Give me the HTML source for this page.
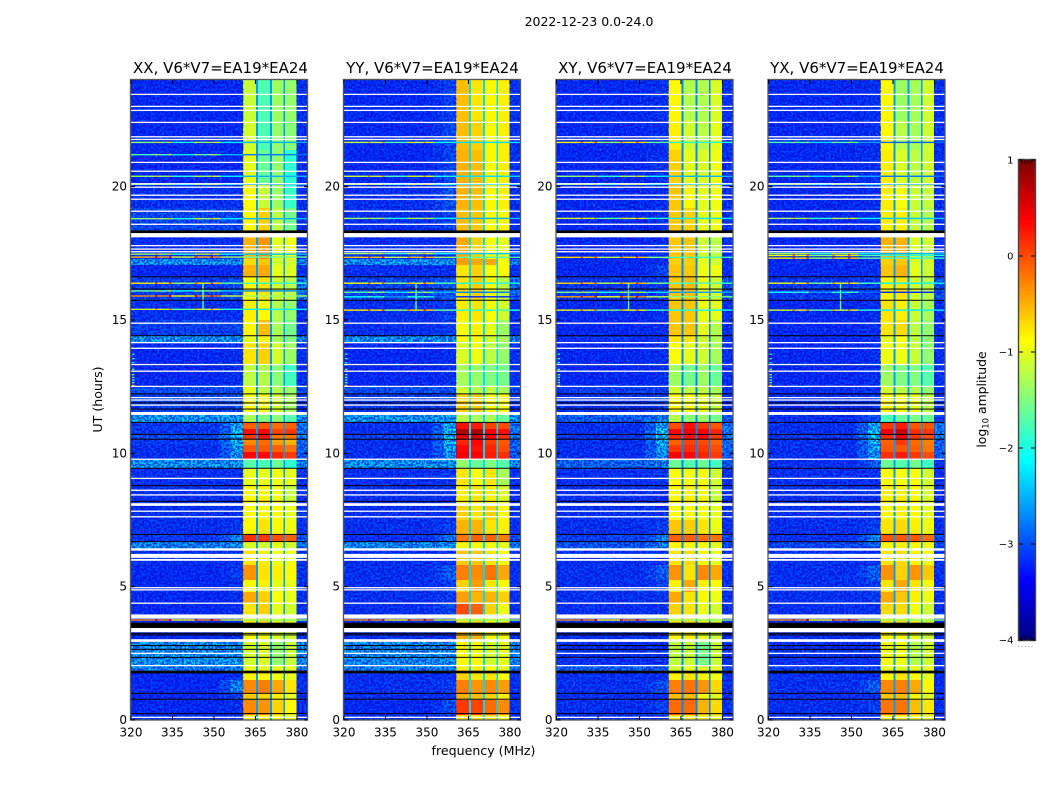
<!DOCTYPE html>
<html lang="en">
<head>
<meta charset="utf-8">
<title>2022-12-23 dynamic spectra</title>
<style>
html,body{margin:0;padding:0;background:#fff;width:1050px;height:800px;overflow:hidden}
svg{display:block}
text{font-family:"DejaVu Sans","Liberation Sans",sans-serif;fill:#000}
</style>
</head>
<body>
<svg id="chart" width="1050" height="800" viewBox="0 0 1050 800" xmlns="http://www.w3.org/2000/svg">
  <defs>
    <filter id="speckLight" x="0" y="0" width="100%" height="100%" color-interpolation-filters="sRGB">
      <feTurbulence type="fractalNoise" baseFrequency="0.45" numOctaves="2" seed="3"/>
      <feColorMatrix type="matrix" values="0 0 0 0 0  0 0 0 0 0.5  0 0 0 0 1  8 0 0 0 -4.9"/>
    </filter>
    <filter id="speckDark" x="0" y="0" width="100%" height="100%" color-interpolation-filters="sRGB">
      <feTurbulence type="fractalNoise" baseFrequency="0.45" numOctaves="2" seed="11"/>
      <feColorMatrix type="matrix" values="0 0 0 0 0  0 0 0 0 0  0 0 0 0 0.8  -8 0 0 0 4.6"/>
    </filter>
  </defs>
  <text x="589" y="26" font-size="12.5" text-anchor="middle">2022-12-23 0.0-24.0</text>
  <text x="220.5" y="73" font-size="15" text-anchor="middle">XX, V6*V7=EA19*EA24</text>
  <text x="432.5" y="73" font-size="15" text-anchor="middle">YY, V6*V7=EA19*EA24</text>
  <text x="645" y="73" font-size="15" text-anchor="middle">XY, V6*V7=EA19*EA24</text>
  <text x="857" y="73" font-size="15" text-anchor="middle">YX, V6*V7=EA19*EA24</text>
  <text transform="translate(102,399.5) rotate(-90)" font-size="12.6" text-anchor="middle">UT (hours)</text>
  <text x="483.5" y="755" font-size="12.6" text-anchor="middle">frequency (MHz)</text>
  <text transform="translate(986,399.5) rotate(-90)" font-size="12.4" text-anchor="middle">log<tspan font-size="8.5" dy="2.5">10</tspan><tspan dy="-2.5"> amplitude</tspan></text>
  <g id="plots"></g>
  <g id="colorbar"></g>
</svg>
<script>
// ---------- chart data (UT hours, MHz, log10 amplitude) ----------
const panelNames = ['xx', 'yy', 'xy', 'yx'];
const frequencyTicks = [320, 335, 350, 365, 380];
const utTicks = [0, 5, 10, 15, 20];
const colorbarTicks = [1, 0, -1, -2, -3, -4];
const colorbarTickLabels = ['1', '0', '\u22121', '\u22122', '\u22123', '\u22124'];
const frequencyEdges = [320, 352, 356, 360.5, 365.2, 365.9, 370.25, 371, 375.06, 375.7, 379.9, 384];
const utEdges = [24, 22.5, 21.38, 20.06, 19.2, 18.34, 18.11, 17.29, 17.06, 16.61, 15.75, 15, 14.4, 14.18, 13.31, 12.49, 12.23, 11.44, 11.18, 10.91, 10.73, 10.54, 10.31, 10.05, 9.79, 9.45, 8.81, 8.14, 7.5, 6.98, 6.68, 6.38, 5.81, 5.25, 4.8, 4.39, 3.83, 3.3, 2.93, 2.06, 1.76, 1.5, 1.01, 0.75, 0.19, 0];
// each row: background, shoulder, band 1, band 2, band 3, band 4, upper edge
const xxRows = [
[-3.1,-3.1,-1.15,-1.75,-1.35,-1.4,-3.05],[-3.1,-3.1,-1.1,-1.75,-1.4,-1.45,-3.05],[-3.1,-3.1,-1,-1.6,-1.4,-1.9,-3.05],[-3.05,-3.05,-.9,-1.15,-1.35,-1.85,-3.05],[-2.9,-2.9,-.85,-.65,-1.2,-1.55,-3.05],[-2.9,-2.9,-.85,-.65,-1.2,-1.55,-3.05],
[-3.05,-3.05,-.5,-.35,-1,-.95,-3.05],[-2.4,-2.4,-.7,-.6,-1.1,-1.1,-2.5],[-3.1,-3.05,-.5,-.45,-1,-1.05,-3.05],[-2.95,-2.85,-.85,-.75,-1.1,-1.2,-2.6],[-3.05,-3.05,-.8,-.85,-1.25,-1.4,-3.05],[-2.95,-2.9,-.85,-.55,-1.3,-1.55,-3.05],
[-2.4,-2.4,-1,-.9,-1.3,-1.5,-2.5],[-3.1,-3.05,-.75,-.65,-1.1,-1.35,-3.05],[-3.1,-3.05,-1.2,-1.25,-1.45,-1.8,-3.05],[-2.85,-2.85,-1,-1.2,-1.25,-1.35,-2.9],[-2.95,-2.85,-.9,-.9,-1.1,-1.3,-3.05],[-2.35,-2.35,-1.3,-1.5,-1.45,-1.7,-2.4],
[-3,-2.3,-.1,-.05,-.15,-.1,-2.6],[-3,-2.2,.3,.35,.05,.1,-2.6],[-2.85,-2.2,.1,.3,-.2,-.2,-2.6],[-3,-2.2,-.3,-.15,-.4,-.5,-2.7],[-3.05,-2.3,-.05,-.05,-.1,-.2,-2.7],[-3.05,-2.4,.35,.35,.2,.1,-2.8],
[-2.4,-2.4,-1.7,-1.75,-1.6,-1.9,-2.5],[-3.05,-3.05,-1,-1,-.95,-1,-3.05],[-3.05,-3.05,-.85,-.85,-.95,-1.15,-3.05],[-3.05,-3.05,-.9,-.85,-.85,-1,-3.05],[-3.05,-3,-.85,-.75,-.85,-.95,-3.05],[-3,-2.5,.15,.1,0,-.1,-2.8],
[-2.5,-2.45,-1.05,-1.1,-1,-1.1,-2.6],[-3.05,-3.05,-.75,-.8,-.95,-.95,-3.05],[-3.1,-2.95,-.35,-.75,-.8,-.85,-3.05],[-3.1,-3.05,-.85,-.8,-1,-1,-3.05],[-3.1,-3.05,-.45,-.65,-.9,-1,-3.05],[-3.1,-3.05,-.75,-.65,-1,-1.1,-3.05],
[-3.1,-3.05,-.8,-.7,-1,-1.1,-3.05],[-3.1,-3.05,-.9,-.9,-1.05,-1.1,-3.05],[-2.4,-2.4,-1.1,-1.05,-1.4,-1.15,-2.45],[-2.55,-2.55,-1,-1,-1,-1,-2.6],[-3.1,-3.05,-.8,-.85,-.95,-1,-3.05],[-3.1,-2.5,-.3,-.25,-.45,-.75,-3.05],
[-3.1,-2.95,-.6,-.7,-.8,-1,-3.05],[-3.1,-3.05,-.3,-.35,-.65,-.85,-3.05],[-3.05,-3.05,-.8,-.8,-.85,-1,-3.05]];
const yyRows = [
[-3.1,-2.95,-.55,-.75,-.85,-.8,-3.05],[-3.1,-2.9,-.55,-.65,-.85,-.8,-3.05],[-3.1,-2.9,-.5,-.55,-.85,-.8,-3.05],[-3.05,-2.8,-.5,-.55,-.85,-.8,-3.05],[-3.05,-2.9,-.55,-.6,-.85,-.85,-3.05],[-3.05,-2.9,-.55,-.6,-.85,-.85,-3.05],
[-3.05,-3.05,-.45,-.65,-.9,-1,-3.05],[-2.4,-2.4,-.4,-.45,-.45,-.9,-2.5],[-3.05,-3.05,-.75,-.65,-.85,-.85,-3.05],[-2.9,-2.75,-.75,-.65,-.85,-1.2,-2.7],[-3.05,-2.95,-.8,-.75,-.9,-1.1,-3.05],[-3.05,-2.95,-.9,-.8,-1,-1.35,-3.05],
[-2.4,-2.4,-.9,-.85,-1.1,-1.3,-2.5],[-3.1,-3.05,-1.05,-.95,-1.2,-1.4,-3.05],[-3.1,-3.05,-1.3,-1.4,-1.5,-1.55,-3.05],[-2.85,-2.85,-1.1,-1.25,-1.2,-1.3,-2.9],[-3,-2.95,-.65,-.65,-.9,-.9,-3.05],[-2.35,-2.35,-1.2,-1.3,-1.3,-1.6,-2.4],
[-3.05,-2.3,.3,.25,.05,0,-2.6],[-3.05,-2.1,.75,.75,.4,.3,-2.6],[-2.95,-2.1,.5,.6,.4,.15,-2.6],[-3.05,-2.2,.2,.35,.1,-.05,-2.7],[-3.05,-2.3,.35,.3,.2,0,-2.7],[-3.05,-2.4,.45,.4,.25,.15,-2.8],
[-2.4,-2.4,-1.4,-1.6,-1.5,-1.7,-2.5],[-3.05,-3,-.75,-.9,-.75,-1.3,-3.05],[-3.05,-3.05,-.8,-.75,-.8,-1.05,-3.05],[-3.05,-3.05,-.65,-.75,-.65,-.85,-3.05],[-3.05,-2.95,-.5,-.5,-.75,-.8,-3.05],[-3.05,-2.6,-.2,-.1,-.1,-.25,-2.9],
[-2.45,-2.45,-.85,-.9,-.95,-1,-2.6],[-3.05,-3.05,-.6,-.6,-.75,-.9,-3.05],[-3.05,-2.75,-.25,-.3,-.2,-.45,-3.05],[-3.05,-2.95,-.65,-.4,-.75,-.85,-3.05],[-3.05,-3,-.4,-.5,-.5,-.65,-3.05],[-3.05,-2.9,0,-.1,-.65,-.95,-3.05],
[-3.05,-3.05,-.8,-.7,-.9,-1,-3.05],[-3.05,-3.05,-.5,-.5,-.85,-.9,-3.05],[-2.45,-2.45,-.85,-.85,-1.1,-1,-2.5],[-2.55,-2.55,-.8,-.8,-.9,-1,-2.6],[-3.05,-3.05,-.65,-.75,-.75,-.9,-3.05],[-3.05,-2.95,-.25,-.35,-.3,-.4,-3.05],
[-3.05,-3.05,-.5,-.55,-.65,-.8,-3.05],[-3.1,-2.85,.1,.05,-.15,-.3,-3.05],[-3.05,-3.05,-.7,-.7,-.7,-.9,-3.05]];
const xyRows = [
[-3.1,-3.05,-.85,-1.25,-1.25,-1.05,-3.05],[-3.1,-3.05,-.8,-1.1,-1.2,-1,-3.05],[-3.1,-3.05,-.65,-1,-1.05,-.95,-3.05],[-3.1,-3.05,-.6,-.85,-1,-.95,-3.05],[-3.1,-3.05,-.6,-.65,-1,-.95,-3.05],[-3.1,-3.05,-.6,-.65,-1,-.95,-3.05],
[-3.1,-3.05,-.6,-.6,-1.1,-1.2,-3.05],[-3.1,-3.05,-.65,-.65,-1,-1.1,-3.05],[-3.1,-2.9,-.6,-.6,-.95,-.95,-3.05],[-3,-2.95,-.6,-.55,-.95,-1.1,-2.8],[-3.1,-3.05,-.6,-.6,-.95,-1,-3.05],[-3.1,-3.05,-.6,-.6,-1,-1.25,-3.05],
[-3.05,-3.05,-.75,-.75,-1.1,-1.25,-3.05],[-3.1,-3.05,-.9,-1,-1.1,-1.3,-3.05],[-3.1,-3.05,-1.35,-1.55,-1.35,-1.6,-3.05],[-2.95,-2.95,-1.1,-1.2,-1.2,-1.3,-3.05],[-3.05,-2.95,-.85,-.9,-1,-1.15,-3.05],[-2.75,-2.5,-1.25,-1.45,-1.35,-1.55,-2.8],
[-3.05,-2.3,0,.3,.1,-.05,-2.6],[-3.05,-2.1,.35,.45,.4,.2,-2.6],[-3,-2.1,.2,.3,.35,.1,-2.6],[-3.05,-2.2,-.1,.05,0,-.1,-2.7],[-3.05,-2.3,.1,.15,.1,0,-2.7],[-3.05,-2.4,.4,.35,.2,.1,-2.8],
[-2.7,-2.5,-1.6,-1.7,-1.6,-1.8,-2.8],[-3.05,-3,-.9,-.9,-.9,-1.1,-3.05],[-3.05,-3.05,-.85,-.8,-.9,-1.15,-3.05],[-3.05,-3.05,-.9,-.85,-.9,-1,-3.05],[-3.05,-2.95,-.6,-.65,-.75,-.95,-3.05],[-2.95,-2.5,-.1,-.1,-.15,-.2,-2.9],
[-2.8,-2.5,-.85,-.85,-.9,-1,-2.9],[-3.05,-3.05,-.75,-.7,-.85,-1,-3.05],[-3.05,-2.75,-.35,-.75,-.3,-.45,-3.05],[-3.05,-2.95,-.8,-.45,-.8,-.85,-3.05],[-3.05,-3,-.45,-.75,-.85,-.95,-3.05],[-3.05,-3.05,-.65,-.75,-.95,-1.1,-3.05],
[-3.05,-3.05,-.8,-.7,-1,-1.1,-3.05],[-3.05,-3.05,-.85,-.8,-1,-1.1,-3.05],[-3.05,-3.05,-1.2,-1.15,-1.5,-1.15,-3.05],[-2.75,-2.75,-1.1,-1,-1,-1,-2.9],[-3.05,-3.05,-.8,-.75,-.8,-.95,-3.05],[-3.05,-2.85,-.25,-.2,-.35,-.7,-3.05],
[-3.05,-3.05,-.55,-.55,-.85,-1,-3.05],[-3.05,-2.95,-.15,-.15,-.5,-.7,-3.05],[-3.05,-3.05,-.75,-.75,-.8,-1,-3.05]];
const yxRows = [
[-3.1,-3.05,-.85,-1.35,-1.3,-1.1,-3.05],[-3.1,-3.05,-.85,-1.2,-1.3,-1.1,-3.05],[-3.1,-3.05,-.8,-1.05,-1.2,-1.1,-3.05],[-3.1,-3.05,-.8,-.9,-1.15,-1.15,-3.05],[-3.1,-3.05,-.8,-.8,-1.15,-1.25,-3.05],[-3.1,-3.05,-.8,-.8,-1.15,-1.25,-3.05],
[-3.1,-3.05,-.5,-.5,-1.05,-1.1,-3.05],[-3.1,-3.05,-.65,-.6,-1.05,-1.1,-3.05],[-3.1,-3.05,-.6,-.5,-1,-1.1,-3.05],[-3,-2.95,-.8,-.75,-1.1,-1.2,-2.8],[-3.1,-3.05,-.75,-.8,-1.15,-1.3,-3.05],[-3.1,-3.05,-.75,-.7,-1.2,-1.4,-3.05],
[-3.1,-3.05,-1,-.9,-1.2,-1.4,-3.05],[-3.1,-3.05,-.95,-.95,-1.15,-1.4,-3.05],[-3.1,-3.05,-1.35,-1.5,-1.5,-1.7,-3.05],[-3.05,-3.05,-1.1,-1.2,-1.25,-1.4,-3.05],[-3.1,-3.05,-.85,-.9,-1,-1.2,-3.05],[-3.05,-2.85,-1.75,-1.6,-1.5,-1.6,-2.9],
[-3.05,-2.3,.1,.25,-.05,-.05,-2.6],[-3.05,-2.1,.45,.6,.15,.1,-2.6],[-3,-2.1,.15,.45,.1,0,-2.6],[-3.05,-2.2,-.1,.1,-.15,-.25,-2.7],[-3.05,-2.3,-.05,-.05,-.1,-.2,-2.7],[-3.05,-2.4,.15,.25,.1,0,-2.8],
[-3.05,-2.75,-1.6,-1.7,-1.55,-1.8,-3.05],[-3.05,-3.05,-.9,-.9,-.9,-1.1,-3.05],[-3.05,-3.05,-.8,-.8,-.85,-1.05,-3.05],[-3.05,-3.05,-.85,-.8,-.85,-1,-3.05],[-3.05,-2.95,-.75,-.7,-.8,-.95,-3.05],[-3.05,-2.5,-.05,-.05,-.05,-.15,-2.9],
[-2.9,-2.75,-.85,-.8,-.85,-.95,-2.9],[-3.05,-3.05,-.75,-.7,-.8,-.95,-3.05],[-3.05,-2.75,-.35,-.65,-.35,-.6,-3.05],[-3.05,-2.95,-.75,-.45,-.75,-.85,-3.05],[-3.05,-3,-.45,-.6,-.8,-.95,-3.05],[-3.05,-3.05,-.7,-.7,-.95,-1.1,-3.05],
[-3.05,-3.05,-.8,-.7,-1,-1.1,-3.05],[-3.05,-3.05,-.85,-.85,-1,-1.1,-3.05],[-3.05,-3.05,-.95,-.95,-1.25,-1.1,-3.05],[-2.95,-2.95,-1,-1,-1,-1,-3.05],[-3.05,-3.05,-.85,-.75,-.85,-1,-3.05],[-3.05,-2.75,-.3,-.25,-.45,-.85,-3.05],
[-3.05,-3.05,-.6,-.55,-.85,-1,-3.05],[-3.05,-2.95,-.2,-.2,-.55,-.75,-3.05],[-3.05,-3.05,-.8,-.8,-.85,-1,-3.05]];
// blue-ish notches between bands, one level per panel
const notchLevels = [-2.6, -2.3, -2.7, -2.6];
// narrow interference lines: [UT, log10 amplitude]
const xxInterference = [[21.66,-1.5],[21.2,-1.8],[20.39,-1.5],[20.09,-1.6],[18.8,-1.5],[17.47,-1.4],[17.36,-.6],[16.38,-.9],[16.09,-1.7],[15.9,-.4],[15.4,-1.2],[3.75,-.4]];
const yyInterference = [[21.66,-1.3],[20.39,-1.3],[20.09,-1.4],[18.81,-1.5],[17.49,-1.4],[17.35,-.7],[16.38,-1],[16.04,-1.8],[15.87,-2.2],[15.37,-.9],[3.75,-.4]];
const xyInterference = [[21.66,-.9],[20.39,-1.5],[20.09,-1.5],[18.81,-1.2],[17.35,-.8],[16.38,-.8],[16.04,-1.6],[15.87,-.5],[15.37,-1.1],[3.75,-.4]];
const yxInterference = [[21.66,-1.9],[20.39,-1.8],[20.09,-1.6],[18.81,-1.4],[17.49,-1.5],[17.42,-1],[17.32,-.9],[16.38,-1.1],[16.04,-2.2],[15.37,-1.2],[3.75,-.4]];
// how each interference line varies across frequency: [start MHz, end MHz, offset]
const interferenceProfile = [[320,328.8,.1],[328.8,329.5,.9],[329.5,333.8,.1],[333.8,334.6,.9],[334.6,343,-.45],[343,344,.6],[344,348.8,.1],[348.8,349.6,.9],[349.6,352.5,.2],[352.5,360.5,-.7],[360.5,384,-1]];
// short vertical interference track: [MHz, UT top, UT bottom, level]
const verticalTrack = [[345.8,16.38,15.37,-1.6]];
// tiny marks on the low-frequency edge
const edgeMarksUT = [13.72,13.55,13.4,13.15,12.95,12.85,12.75,12.65,12.55];
const edgeMarkLevels = [-2,-1.8,-2.2,-1.6,-1.4,-1.6,-1.8,-1.5,-.6];
// flagged (missing) data
const whiteLinesUT = [23.46,23.01,22.86,22.41,21.87,21.77,20.91,20.58,20.11,19.98,19.68,19.53,19.08,18.59,17.79,17.66,17.56,14.88,14.15,13.94,13.33,13.08,12.51,12.09,12,11.81,9.78,9.06,8.44,7.83,7.62,4.96,4.88,4.38,2.5,2.04,.1];
const whiteBandsUT = [[18.27,18.1],[11.55,11.44],[8.64,8.59],[8.13,8.03],[6.44,6.35],[6.23,6.08],[6.04,5.97],[3.96,3.8],[3.45,3.29],[3.03,2.93]];
const blackLinesUT = [16.62,16.16,15.74,14.41,12.23,11.89,11.66,11.16,10.71,10.53,9.44,8.79,8.2,6.96,6.69,3.25,3.19,2.79,2.65,2.35,1,.78,.24];
const blackBandsUT = [[18.36,18.26],[3.65,3.45],[1.85,1.75]];

// ---------- layout ----------
const panelLeft = [131, 344, 556.5, 768.5];
const panelWidth = 177, panelTop = 80, panelBottom = 720;
const rowTables = [xxRows, yyRows, xyRows, yxRows];
const interferenceTables = [xxInterference, yyInterference, xyInterference, yxInterference];
// index into a row; 7 = notch level, 8 = blend of background and shoulder
const valueColumns = [0, 8, 1, 2, 7, 3, 7, 4, 7, 5, 6];
const NS = 'http://www.w3.org/2000/svg';
const xScale = (p, f) => panelLeft[p] + (f - 320) / 64 * panelWidth;
const yScale = ut => panelBottom - ut / 24 * (panelBottom - panelTop);
function jetPart(x) { return Math.max(0, Math.min(1, x)); }
function colorOf(v) {
  const t = jetPart((v + 4) / 5);
  const r = jetPart(Math.min(4 * t - 1.5, -4 * t + 4.5));
  const g = jetPart(Math.min(4 * t - 0.5, -4 * t + 3.5));
  const b = jetPart(Math.min(4 * t + 0.5, -4 * t + 2.5));
  return 'rgb(' + Math.round(r * 255) + ',' + Math.round(g * 255) + ',' + Math.round(b * 255) + ')';
}
function mk(tag, attrs, parent) {
  const el = document.createElementNS(NS, tag);
  for (const k in attrs) el.setAttribute(k, attrs[k]);
  parent.appendChild(el);
  return el;
}
const plots = document.getElementById('plots');
panelNames.forEach((name, p) => {
  const group = mk('g', {}, plots);
  
  
  const x0 = panelLeft[p], x1 = x0 + panelWidth;

  // heatmap cells
  rowTables[p].forEach((row, i) => {
    const yA = yScale(utEdges[i]), yB = yScale(utEdges[i + 1]);
    valueColumns.forEach((col, c) => {
      const level = col === 7 ? notchLevels[p] : col === 8 ? row[0] * 0.65 + row[1] * 0.35 : row[col];
      const xA = xScale(p, frequencyEdges[c]), xB = xScale(p, frequencyEdges[c + 1]);
      const cell = mk('rect', { x: xA, y: yA, width: xB - xA, height: yB - yA, fill: colorOf(level), 'shape-rendering': 'crispEdges' }, group);
      
      
    });
  });

  // fine texture of the noise floor
  const bgEnd = xScale(p, 360.5), bandEnd = xScale(p, 379.9);
  [['speckLight', x0, bgEnd - x0, 0.6], ['speckDark', x0, bgEnd - x0, 0.6], ['speckLight', bandEnd, x1 - bandEnd, 0.6], ['speckDark', bandEnd, x1 - bandEnd, 0.6]].forEach(t => {
    const tex = mk('rect', { x: t[1], y: panelTop, width: t[2], height: panelBottom - panelTop, filter: 'url(#' + t[0] + ')', opacity: t[3] }, group);
    
    
  });

  // interference lines
  interferenceTables[p].forEach(line => {
    interferenceProfile.forEach(seg => {
      const xA = xScale(p, seg[0]), xB = xScale(p, seg[1]);
      const mark = mk('rect', { x: xA, y: yScale(line[0]) - 0.7, width: xB - xA, height: 1.4, fill: colorOf(line[1] + seg[2]) }, group);
      
      
    });
  });
  verticalTrack.forEach(track => {
    const mark = mk('rect', { x: xScale(p, track[0]), y: yScale(track[1]), width: 1.4, height: yScale(track[2]) - yScale(track[1]), fill: colorOf(track[3]) }, group);
    
    
  });
  edgeMarksUT.forEach((ut, i) => {
    const mark = mk('rect', { x: x0 + 1, y: yScale(ut) - 0.6, width: 2.5, height: 1.2, fill: colorOf(edgeMarkLevels[i]) }, group);
    
    
  });

  // flagged rows
  whiteLinesUT.forEach(ut => {
    const mark = mk('rect', { x: x0, y: yScale(ut) - 0.65, width: panelWidth, height: 1.3, fill: '#fff' }, group);
    
    
  });
  whiteBandsUT.forEach(b => {
    const mark = mk('rect', { x: x0, y: yScale(b[0]), width: panelWidth, height: yScale(b[1]) - yScale(b[0]), fill: '#fff' }, group);
    
    
  });
  blackLinesUT.forEach(ut => {
    const mark = mk('rect', { x: x0, y: yScale(ut) - 0.5, width: panelWidth, height: 1, fill: '#000' }, group);
    
    
  });
  blackBandsUT.forEach(b => {
    const mark = mk('rect', { x: x0, y: yScale(b[0]), width: panelWidth, height: yScale(b[1]) - yScale(b[0]), fill: '#000' }, group);
    
    
  });

  // frame
  const frame = mk('rect', { x: x0 - 0.5, y: panelTop - 0.5, width: panelWidth, height: panelBottom - panelTop + 0.5, fill: 'none', stroke: '#555', 'stroke-width': 1.3 }, group);
  
  

  // x ticks
  frequencyTicks.forEach(f => {
    const x = xScale(p, f);
    const tickB = mk('line', { x1: x, x2: x, y1: panelBottom, y2: panelBottom - 4, stroke: '#000' }, group);
    
    
    const tickT = mk('line', { x1: x, x2: x, y1: panelTop, y2: panelTop + 4, stroke: '#000' }, group);
    
    
    const label = mk('text', { x: x, y: 736.5, 'font-size': 12, 'text-anchor': 'middle' }, group);
    
    
    label.textContent = String(f);
  });
  // y ticks
  utTicks.forEach(ut => {
    const y = yScale(ut);
    const tickL = mk('line', { x1: x0, x2: x0 + 4, y1: y, y2: y, stroke: '#000' }, group);
    
    
    const tickR = mk('line', { x1: x1, x2: x1 - 4, y1: y, y2: y, stroke: '#000' }, group);
    
    
    const label = mk('text', { x: x0 - 4, y: y + 4, 'font-size': 12, 'text-anchor': 'end' }, group);
    
    
    label.textContent = String(ut);
  });
});

// ---------- colorbar ----------
const cbar = document.getElementById('colorbar');
const cbLeft = 1019, cbWidth = 16, cbTop = 160, cbBottom = 640;
const cbScale = v => cbBottom - (v + 4) / 5 * (cbBottom - cbTop);
for (let i = 0; i < 240; i++) {
  const v = -4 + i * 5 / 240;
  const strip = mk('rect', { x: cbLeft, y: cbScale(v + 5 / 240), width: cbWidth, height: (cbBottom - cbTop) / 240 + 0.3, fill: colorOf(v + 2.5 / 240), 'shape-rendering': 'crispEdges' }, cbar);
  
  
}
const cbFrame = mk('rect', { x: cbLeft - 0.5, y: cbTop - 0.5, width: cbWidth + 1, height: cbBottom - cbTop + 1, fill: 'none', stroke: '#444', 'stroke-width': 1.4 }, cbar);


colorbarTicks.forEach((v, i) => {
  const y = cbScale(v);
  const tickL = mk('line', { x1: cbLeft, x2: cbLeft + 4, y1: y, y2: y, stroke: '#000' }, cbar);
  
  
  const tickR = mk('line', { x1: cbLeft + cbWidth, x2: cbLeft + cbWidth - 4, y1: y, y2: y, stroke: '#000' }, cbar);
  
  
  const label = mk('text', { x: 1013.5, y: y + 3.5, 'font-size': 10, 'text-anchor': 'end' }, cbar);
  
  
  label.textContent = colorbarTickLabels[i];
});
[1022, 1025, 1028, 1031].forEach(x => {
  const tickT = mk('line', { x1: x, x2: x, y1: cbTop, y2: cbTop + 4, stroke: '#000', 'stroke-width': 0.8 }, cbar);
  
  
  const tickB = mk('line', { x1: x, x2: x, y1: cbBottom, y2: cbBottom - 4, stroke: '#000', 'stroke-width': 0.8 }, cbar);
  
  
});
const dots = mk('line', { x1: 1018, x2: 1035, y1: 646.5, y2: 646.5, stroke: '#999', 'stroke-width': 1, 'stroke-dasharray': '1 2.4' }, cbar);


</script>
</body>
</html>
